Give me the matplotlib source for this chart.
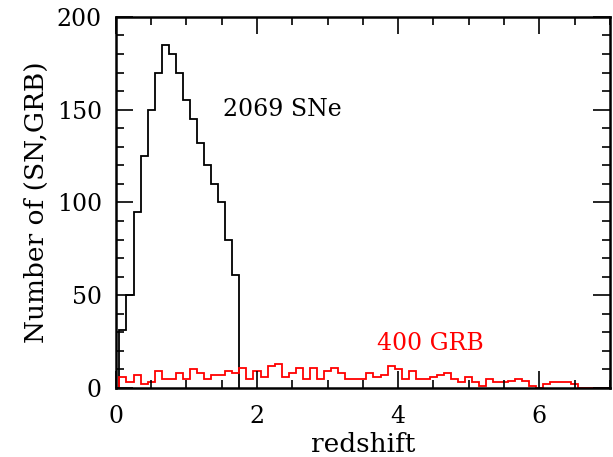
import numpy as np
import matplotlib
matplotlib.use('Agg')
import matplotlib.pyplot as plt
from matplotlib.ticker import MultipleLocator

plt.rcParams['font.family'] = ['DejaVu Serif']

# Histogram data, bin width 0.1 in redshift, first bin starts at z = 0.05
bin_start = 0.05
bin_width = 0.1

# SN counts per bin (2069 total)
sn_counts = [31, 50, 95, 125, 150, 170, 185, 180, 170, 155, 145, 132,
             120, 110, 100, 80, 61]

# GRB counts per bin (400 total)
grb_counts = [6, 3, 7, 2, 3, 9, 5, 5, 8, 5, 10, 8, 5, 7, 7, 9, 8, 11, 5, 9,
              6, 12, 13, 6, 8, 11, 5, 11, 5, 9, 11, 8, 5, 5, 5, 8, 6, 7, 12,
              10, 5, 9, 5, 5, 6, 7, 8, 5, 3, 6, 3, 1, 5, 3, 3, 4, 5, 4, 1, 0,
              2, 3, 3, 3, 2, 0, 0, 0, 0, 0]

sn_label = "2069 SNe"
grb_label = "400 GRB"

sn_edges = bin_start + bin_width * np.arange(len(sn_counts) + 1)
grb_edges = bin_start + bin_width * np.arange(len(grb_counts) + 1)

fig = plt.figure(figsize=(6.13, 4.57), dpi=100)
ax = fig.add_axes([0.189, 0.151, 0.806, 0.812])

ax.stairs(sn_counts, sn_edges, color='black', lw=1.3, baseline=0)
ax.stairs(grb_counts, grb_edges, color='red', lw=1.3, baseline=0)

ax.text(1.52, 150, sn_label, fontsize=17, color='black', va='center')
ax.text(3.7, 24, grb_label, fontsize=17, color='red', va='center')

ax.set_xlim(0, 7)
ax.set_ylim(0, 200)
ax.xaxis.set_major_locator(MultipleLocator(2))
ax.xaxis.set_minor_locator(MultipleLocator(0.5))
ax.yaxis.set_major_locator(MultipleLocator(50))
ax.yaxis.set_minor_locator(MultipleLocator(10))
ax.tick_params(which='both', direction='in', top=True, right=True,
               labelsize=17, width=1.2)
ax.tick_params(which='major', length=12, pad=10)
ax.tick_params(which='minor', length=6)
ax.tick_params(axis='x', which='major', pad=12)
for s in ax.spines.values():
    s.set_linewidth(1.8)

ax.set_xlabel('redshift', fontsize=19, labelpad=3)
ax.set_ylabel('Number of (SN,GRB)', fontsize=19, labelpad=6)

fig.savefig('out.png', dpi=100)
